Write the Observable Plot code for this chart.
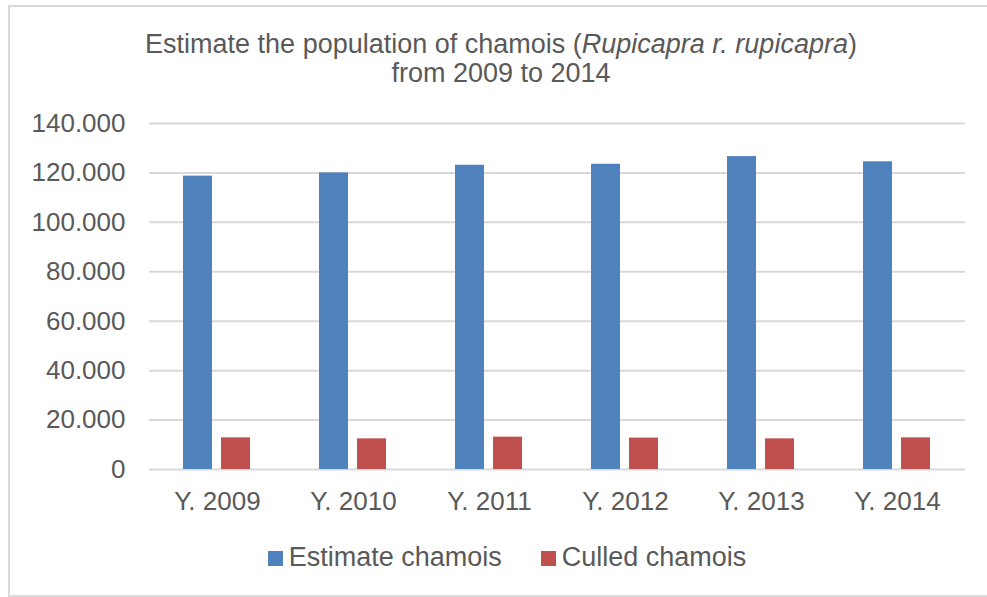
<!DOCTYPE html>
<html>
<head>
<meta charset="utf-8">
<script src="https://cdn.jsdelivr.net/npm/d3@7"></script>
<script src="https://cdn.jsdelivr.net/npm/@observablehq/plot@0.6"></script>
<style>
  html, body { margin: 0; padding: 0; background: #fff; }
  body { width: 987px; height: 597px; overflow: hidden; position: relative; font-family: "Liberation Sans", Arial, sans-serif; color: #595959; }
  #frame { position: absolute; left: 8px; top: 5px; width: 990px; height: 592px; border: 2px solid #d9d9d9; box-sizing: border-box; pointer-events: none; }
  #title { height: 100px; box-sizing: border-box; padding-top: 30px; padding-left: 15px; text-align: center; font-size: 27px; line-height: 29px; }
  #chart { height: 430px; overflow: visible; }
  #chart svg { display: block; }
  #legend { height: 67px; box-sizing: border-box; margin-top: -7px; padding-left: 27px; display: flex; justify-content: center; font-size: 27px; line-height: 30px; }
  .item { display: flex; align-items: center; }
  .item + .item { margin-left: 39px; }
  .sw { width: 15px; height: 15px; margin-right: 6px; position: relative; top: 2px; }
</style>
</head>
<body>
<div id="frame"></div>
<div id="title">Estimate the population of chamois (<i>Rupicapra r. rupicapra</i>)<br>from 2009 to 2014</div>
<div id="chart"></div>
<div id="legend"></div>
<script>
const years = ["Y. 2009", "Y. 2010", "Y. 2011", "Y. 2012", "Y. 2013", "Y. 2014"];
const seriesNames = ["Estimate chamois", "Culled chamois"];
const estimateChamois = [118700, 120000, 123100, 123500, 126600, 124500];
const culledChamois = [12800, 12400, 13100, 12700, 12400, 12800];
const seriesColors = ["#4F81BD", "#C0504D"];
const yTicks = [0, 20000, 40000, 60000, 80000, 100000, 120000, 140000];

const data = years.flatMap((y, i) => [
  {year: y, series: seriesNames[0], value: estimateChamois[i]},
  {year: y, series: seriesNames[1], value: culledChamois[i]}
]);

const fmt = d => d === 0 ? "0" : d3.format(",")(d).replace(/,/g, ".");

const chart = Plot.plot({
  width: 987,
  height: 430,
  marginLeft: 149,
  marginRight: 22,
  marginTop: 23,
  marginBottom: 61,
  style: {fontFamily: "'Liberation Sans', Arial, sans-serif", fontSize: "26px", color: "#595959", background: "white", overflow: "visible"},
  fx: {domain: years, padding: 0, axis: null, label: null},
  x: {domain: seriesNames, axis: null, paddingInner: 0.2308, paddingOuter: 0.859},
  y: {domain: [0, 140000], axis: null},
  color: {domain: seriesNames, range: seriesColors},
  marks: [
    Plot.ruleY(yTicks, {stroke: "#d9d9d9", strokeWidth: 2}),
    Plot.barY(data, {fx: "year", x: "series", y: "value", fill: "series"}),
    Plot.axisY(yTicks, {tickSize: 0, tickPadding: 24, tickFormat: fmt, label: null, fontSize: 26}),
    Plot.axisFx({anchor: "bottom", tickSize: 0, tickPadding: 22, label: null, fontSize: 26})
  ]
});
document.getElementById("chart").appendChild(chart);

const legend = document.getElementById("legend");
seriesNames.forEach((s, i) => {
  const item = document.createElement("div");
  item.className = "item";
  const sw = document.createElement("span");
  sw.className = "sw";
  sw.style.background = seriesColors[i];
  const t = document.createElement("span");
  t.textContent = s;
  item.appendChild(sw);
  item.appendChild(t);
  legend.appendChild(item);
});
</script>
</body>
</html>
